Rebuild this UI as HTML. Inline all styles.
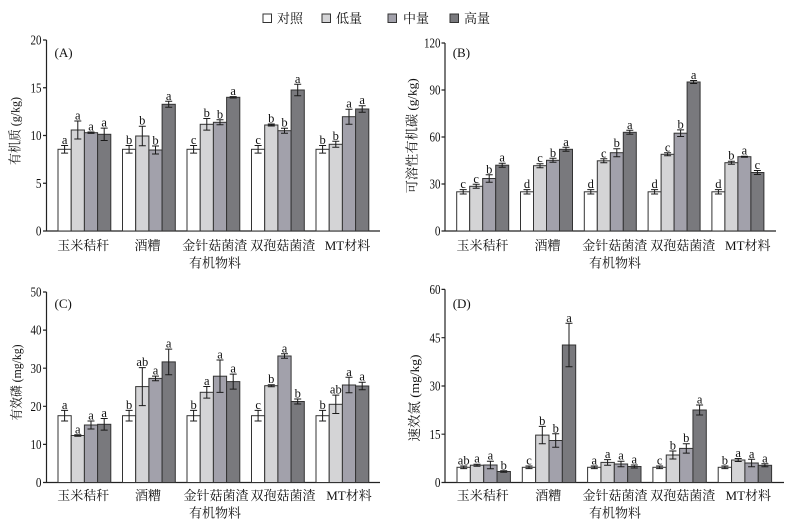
<!DOCTYPE html>
<html><head><meta charset="utf-8"><style>
html,body{margin:0;padding:0;background:#fff;}
svg{display:block;}
.t{font-family:"Liberation Serif","Noto Serif CJK SC",serif;fill:#111;}
.cj{font-family:"Liberation Serif","Noto Serif CJK SC",serif;fill:#111;font-size:13px;}
.lt{font-size:12.5px;text-anchor:middle;}
.tk{font-size:14px;text-anchor:end;}
.w{fill:#ffffff;stroke:#333;stroke-width:1;}
.l{fill:#d4d4d6;stroke:#333;stroke-width:1;}
.m{fill:#a2a1ab;stroke:#333;stroke-width:1;}
.d{fill:#79797d;stroke:#333;stroke-width:1;}
.ax{stroke:#222;stroke-width:1.2;fill:none;}
.eb{stroke:#1a1a1a;stroke-width:1;fill:none;}
</style></head><body>
<svg width="797" height="526" viewBox="0 0 797 526" xmlns="http://www.w3.org/2000/svg">
<rect width="797" height="526" fill="#fff"/>

<!-- Legend -->
<rect class="w" x="263" y="14" width="8.5" height="8.5"/>
<text class="cj" x="277" y="23">对照</text>
<rect class="l" x="322" y="14" width="8.5" height="8.5"/>
<text class="cj" x="336" y="23">低量</text>
<rect class="m" x="388" y="14" width="8.5" height="8.5"/>
<text class="cj" x="403" y="23">中量</text>
<rect class="d" x="450" y="14" width="8.5" height="8.5"/>
<text class="cj" x="464" y="23">高量</text>

<!-- ================= Panel A ================= -->
<path class="ax" d="M46.5 40 V231 H380 M43 40 H46.5 M43 87.75 H46.5 M43 135.5 H46.5 M43 183.25 H46.5 M43 231 H46.5"/>
<text class="t tk" x="41.5" y="44.6" textLength="11" lengthAdjust="spacingAndGlyphs">20</text>
<text class="t tk" x="41.5" y="92.3" textLength="11" lengthAdjust="spacingAndGlyphs">15</text>
<text class="t tk" x="41.5" y="140.1" textLength="11" lengthAdjust="spacingAndGlyphs">10</text>
<text class="t tk" x="41.5" y="187.8" textLength="5.6" lengthAdjust="spacingAndGlyphs">5</text>
<text class="t tk" x="41.5" y="235.6" textLength="5.6" lengthAdjust="spacingAndGlyphs">0</text>
<text class="t" x="54.5" y="57" font-size="13">(A)</text>
<text class="cj" transform="translate(19.5,131) rotate(-90)" text-anchor="middle" textLength="68" lengthAdjust="spacingAndGlyphs">有机质 (g/kg)</text>

<rect class="w" x="58" y="149.3" width="13.2" height="81.7"/>
<rect class="l" x="71.2" y="130" width="13.2" height="101"/>
<rect class="m" x="84.4" y="132.7" width="13.2" height="98.3"/>
<rect class="d" x="97.6" y="134.3" width="13.2" height="96.7"/>
<rect class="w" x="122.5" y="149.3" width="13.2" height="81.7"/>
<rect class="l" x="135.7" y="136" width="13.2" height="95"/>
<rect class="m" x="148.9" y="150" width="13.2" height="81"/>
<rect class="d" x="162.1" y="104.3" width="13.2" height="126.7"/>
<rect class="w" x="187" y="149.3" width="13.2" height="81.7"/>
<rect class="l" x="200.2" y="124.3" width="13.2" height="106.7"/>
<rect class="m" x="213.4" y="122.3" width="13.2" height="108.7"/>
<rect class="d" x="226.6" y="97.3" width="13.2" height="133.7"/>
<rect class="w" x="251.5" y="149.3" width="13.2" height="81.7"/>
<rect class="l" x="264.7" y="125" width="13.2" height="106"/>
<rect class="m" x="277.9" y="130.7" width="13.2" height="100.3"/>
<rect class="d" x="291.1" y="90" width="13.2" height="141"/>
<rect class="w" x="316" y="149.3" width="13.2" height="81.7"/>
<rect class="l" x="329.2" y="144.3" width="13.2" height="86.7"/>
<rect class="m" x="342.4" y="116.7" width="13.2" height="114.3"/>
<rect class="d" x="355.6" y="109" width="13.2" height="122"/>
<path class="eb" d="
M61.1 145.5H68.1M64.6 145.5V153.1M61.1 153.1H68.1
M74.3 121H81.3M77.8 121V139M74.3 139H81.3
M87.5 132H94.5M91 132V133.4M87.5 133.4H94.5
M100.7 128.1H107.7M104.2 128.1V140.5M100.7 140.5H107.7
M125.6 145.5H132.6M129.1 145.5V153.1M125.6 153.1H132.6
M138.8 126.2H145.8M142.3 126.2V145.8M138.8 145.8H145.8
M152 146H159M155.5 146V154M152 154H159
M165.2 101.3H172.2M168.7 101.3V107.3M165.2 107.3H172.2
M190.1 145.5H197.1M193.6 145.5V153.1M190.1 153.1H197.1
M203.3 118.5H210.3M206.8 118.5V130.1M203.3 130.1H210.3
M216.5 119.8H223.5M220 119.8V124.8M216.5 124.8H223.5
M229.7 96.6H236.7M233.2 96.6V98M229.7 98H236.7
M254.6 145.5H261.6M258.1 145.5V153.1M254.6 153.1H261.6
M267.8 124H274.8M271.3 124V126M267.8 126H274.8
M281 128.2H288M284.5 128.2V133.2M281 133.2H288
M294.2 84.3H301.2M297.7 84.3V95.7M294.2 95.7H301.2
M319.1 145.5H326.1M322.6 145.5V153.1M319.1 153.1H326.1
M332.3 141.3H339.3M335.8 141.3V147.3M332.3 147.3H339.3
M345.5 109.2H352.5M349 109.2V124.2M345.5 124.2H352.5
M358.7 105.7H365.7M362.2 105.7V112.3M358.7 112.3H365.7"/>
<g class="t lt">
<text x="64.6" y="144">a</text><text x="77.8" y="119.5">a</text><text x="91" y="130.5">a</text><text x="104.2" y="126.6">a</text>
<text x="129.1" y="144">b</text><text x="142.3" y="124.7">b</text><text x="155.5" y="144.5">b</text><text x="168.7" y="99.8">a</text>
<text x="193.6" y="144">c</text><text x="206.8" y="117">b</text><text x="220" y="118.3">b</text><text x="233.2" y="95">a</text>
<text x="258.1" y="144">c</text><text x="271.3" y="122.5">b</text><text x="284.5" y="126.7">b</text><text x="297.7" y="82.8">a</text>
<text x="322.6" y="144">b</text><text x="335.8" y="139.8">b</text><text x="349" y="107.7">a</text><text x="362.2" y="104.2">a</text>
</g>
<g class="cj" text-anchor="middle">
<text x="83.3" y="250">玉米秸秆</text><text x="147.5" y="250">酒糟</text><text x="214.7" y="250">金针菇菌渣</text><text x="282.8" y="250">双孢菇菌渣</text><text x="347.5" y="250">MT材料</text>
<text x="215" y="267.5">有机物料</text>
</g>

<!-- ================= Panel B ================= -->
<path class="ax" d="M445 43 V231 H776 M441.5 43 H445 M441.5 90 H445 M441.5 137 H445 M441.5 184 H445 M441.5 231 H445"/>
<text class="t tk" x="440.5" y="47.6" textLength="16.5" lengthAdjust="spacingAndGlyphs">120</text>
<text class="t tk" x="440.5" y="94.6" textLength="11" lengthAdjust="spacingAndGlyphs">90</text>
<text class="t tk" x="440.5" y="141.6" textLength="11" lengthAdjust="spacingAndGlyphs">60</text>
<text class="t tk" x="440.5" y="188.6" textLength="11" lengthAdjust="spacingAndGlyphs">30</text>
<text class="t tk" x="440.5" y="235.6" textLength="5.6" lengthAdjust="spacingAndGlyphs">0</text>
<text class="t" x="452.7" y="57" font-size="13">(B)</text>
<text class="cj" transform="translate(416.5,135.8) rotate(-90)" text-anchor="middle" textLength="115" lengthAdjust="spacingAndGlyphs">可溶性有机碳 (g/kg)</text>

<rect class="w" x="456.7" y="191.8" width="13" height="39.2"/>
<rect class="l" x="469.7" y="186.3" width="13" height="44.7"/>
<rect class="m" x="482.7" y="178.5" width="13" height="52.5"/>
<rect class="d" x="495.7" y="165.2" width="13" height="65.8"/>
<rect class="w" x="520.5" y="191.8" width="13" height="39.2"/>
<rect class="l" x="533.5" y="165.7" width="13" height="65.3"/>
<rect class="m" x="546.5" y="160.3" width="13" height="70.7"/>
<rect class="d" x="559.5" y="149.3" width="13" height="81.7"/>
<rect class="w" x="584.3" y="191.8" width="13" height="39.2"/>
<rect class="l" x="597.3" y="160.8" width="13" height="70.2"/>
<rect class="m" x="610.3" y="152.7" width="13" height="78.3"/>
<rect class="d" x="623.3" y="132.3" width="13" height="98.7"/>
<rect class="w" x="648.1" y="191.8" width="13" height="39.2"/>
<rect class="l" x="661.1" y="154.3" width="13" height="76.7"/>
<rect class="m" x="674.1" y="133.2" width="13" height="97.8"/>
<rect class="d" x="687.1" y="82" width="13" height="149"/>
<rect class="w" x="711.9" y="191.8" width="13" height="39.2"/>
<rect class="l" x="724.9" y="162.7" width="13" height="68.3"/>
<rect class="m" x="737.9" y="156.7" width="13" height="74.3"/>
<rect class="d" x="750.9" y="172.5" width="13" height="58.5"/>
<path class="eb" d="
M459.7 189.6H466.7M463.2 189.6V194M459.7 194H466.7
M472.7 184.3H479.7M476.2 184.3V188.3M472.7 188.3H479.7
M485.7 174.8H492.7M489.2 174.8V182.2M485.7 182.2H492.7
M498.7 163.2H505.7M502.2 163.2V167.2M498.7 167.2H505.7
M523.5 189.6H530.5M527 189.6V194M523.5 194H530.5
M536.5 163.7H543.5M540 163.7V167.7M536.5 167.7H543.5
M549.5 158.3H556.5M553 158.3V162.3M549.5 162.3H556.5
M562.5 147.3H569.5M566 147.3V151.3M562.5 151.3H569.5
M587.3 189.6H594.3M590.8 189.6V194M587.3 194H594.3
M600.3 158.8H607.3M603.8 158.8V162.8M600.3 162.8H607.3
M613.3 148.7H620.3M616.8 148.7V156.7M613.3 156.7H620.3
M626.3 130.3H633.3M629.8 130.3V134.3M626.3 134.3H633.3
M651.1 189.6H658.1M654.6 189.6V194M651.1 194H658.1
M664.1 152.8H671.1M667.6 152.8V155.8M664.1 155.8H671.1
M677.1 129.9H684.1M680.6 129.9V136.5M677.1 136.5H684.1
M690.1 80.5H697.1M693.6 80.5V83.5M690.1 83.5H697.1
M714.9 189.6H721.9M718.4 189.6V194M714.9 194H721.9
M727.9 161.2H734.9M731.4 161.2V164.2M727.9 164.2H734.9
M740.9 156.2H747.9M744.4 156.2V157.2M740.9 157.2H747.9
M753.9 170.5H760.9M757.4 170.5V174.5M753.9 174.5H760.9"/>
<g class="t lt">
<text x="463.2" y="188.1">c</text><text x="476.2" y="182.8">c</text><text x="489.2" y="173.3">b</text><text x="502.2" y="161.7">a</text>
<text x="527" y="188.1">d</text><text x="540" y="162.2">c</text><text x="553" y="156.8">b</text><text x="566" y="145.8">a</text>
<text x="590.8" y="188.1">d</text><text x="603.8" y="157.3">c</text><text x="616.8" y="147.2">b</text><text x="629.8" y="128.8">a</text>
<text x="654.6" y="188.1">d</text><text x="667.6" y="151.3">c</text><text x="680.6" y="128.4">b</text><text x="693.6" y="79">a</text>
<text x="718.4" y="188.1">d</text><text x="731.4" y="159.7">b</text><text x="744.4" y="154.7">a</text><text x="757.4" y="169">c</text>
</g>
<g class="cj" text-anchor="middle">
<text x="482.5" y="250">玉米秸秆</text><text x="547.5" y="250">酒糟</text><text x="614.7" y="250">金针菇菌渣</text><text x="682.8" y="250">双孢菇菌渣</text><text x="747.8" y="250">MT材料</text>
<text x="615" y="267.5">有机物料</text>
</g>

<!-- ================= Panel C ================= -->
<path class="ax" d="M46.5 292 V482.5 H380 M43 292 H46.5 M43 330.1 H46.5 M43 368.2 H46.5 M43 406.3 H46.5 M43 444.4 H46.5 M43 482.5 H46.5"/>
<text class="t tk" x="41.5" y="296.6" textLength="11" lengthAdjust="spacingAndGlyphs">50</text>
<text class="t tk" x="41.5" y="334.7" textLength="11" lengthAdjust="spacingAndGlyphs">40</text>
<text class="t tk" x="41.5" y="372.8" textLength="11" lengthAdjust="spacingAndGlyphs">30</text>
<text class="t tk" x="41.5" y="410.9" textLength="11" lengthAdjust="spacingAndGlyphs">20</text>
<text class="t tk" x="41.5" y="449" textLength="11" lengthAdjust="spacingAndGlyphs">10</text>
<text class="t tk" x="41.5" y="487.1" textLength="5.6" lengthAdjust="spacingAndGlyphs">0</text>
<text class="t" x="54.5" y="308" font-size="13">(C)</text>
<text class="cj" transform="translate(21,382.5) rotate(-90)" text-anchor="middle" textLength="76" lengthAdjust="spacingAndGlyphs">有效磷 (mg/kg)</text>

<rect class="w" x="58" y="415.7" width="13.2" height="66.8"/>
<rect class="l" x="71.2" y="435.5" width="13.2" height="47"/>
<rect class="m" x="84.4" y="425" width="13.2" height="57.5"/>
<rect class="d" x="97.6" y="424.3" width="13.2" height="58.2"/>
<rect class="w" x="122.5" y="415.7" width="13.2" height="66.8"/>
<rect class="l" x="135.7" y="386.6" width="13.2" height="95.9"/>
<rect class="m" x="148.9" y="378.4" width="13.2" height="104.1"/>
<rect class="d" x="162.1" y="361.9" width="13.2" height="120.6"/>
<rect class="w" x="187" y="415.7" width="13.2" height="66.8"/>
<rect class="l" x="200.2" y="392.3" width="13.2" height="90.2"/>
<rect class="m" x="213.4" y="376.2" width="13.2" height="106.3"/>
<rect class="d" x="226.6" y="381.6" width="13.2" height="100.9"/>
<rect class="w" x="251.5" y="415.7" width="13.2" height="66.8"/>
<rect class="l" x="264.7" y="385.7" width="13.2" height="96.8"/>
<rect class="m" x="277.9" y="356" width="13.2" height="126.5"/>
<rect class="d" x="291.1" y="401.5" width="13.2" height="81"/>
<rect class="w" x="316" y="415.7" width="13.2" height="66.8"/>
<rect class="l" x="329.2" y="404.3" width="13.2" height="78.2"/>
<rect class="m" x="342.4" y="385" width="13.2" height="97.5"/>
<rect class="d" x="355.6" y="386" width="13.2" height="96.5"/>
<path class="eb" d="
M61.1 410.4H68.1M64.6 410.4V421M61.1 421H68.1
M74.3 434.8H81.3M77.8 434.8V436.2M74.3 436.2H81.3
M87.5 421H94.5M91 421V429M87.5 429H94.5
M100.7 418.5H107.7M104.2 418.5V430.1M100.7 430.1H107.7
M125.6 410.4H132.6M129.1 410.4V421M125.6 421H132.6
M138.8 367.6H145.8M142.3 367.6V405.6M138.8 405.6H145.8
M152 376.1H159M155.5 376.1V380.7M152 380.7H159
M165.2 349.1H172.2M168.7 349.1V374.7M165.2 374.7H172.2
M190.1 410.4H197.1M193.6 410.4V421M190.1 421H197.1
M203.3 386.5H210.3M206.8 386.5V398.1M203.3 398.1H210.3
M216.5 360H223.5M220 360V392.4M216.5 392.4H223.5
M229.7 374.1H236.7M233.2 374.1V389.1M229.7 389.1H236.7
M254.6 410.4H261.6M258.1 410.4V421M254.6 421H261.6
M267.8 384.7H274.8M271.3 384.7V386.7M267.8 386.7H274.8
M281 353.8H288M284.5 353.8V358.2M281 358.2H288
M294.2 399H301.2M297.7 399V404M294.2 404H301.2
M319.1 410.4H326.1M322.6 410.4V421M319.1 421H326.1
M332.3 395.1H339.3M335.8 395.1V413.5M332.3 413.5H339.3
M345.5 377.3H352.5M349 377.3V392.7M345.5 392.7H352.5
M358.7 382.2H365.7M362.2 382.2V389.8M358.7 389.8H365.7"/>
<g class="t lt">
<text x="64.6" y="408.9">a</text><text x="77.8" y="433.3">a</text><text x="91" y="419.5">a</text><text x="104.2" y="417">a</text>
<text x="129.1" y="408.9">b</text><text x="142.3" y="366.1">ab</text><text x="155.5" y="374.6">a</text><text x="168.7" y="347.6">a</text>
<text x="193.6" y="408.9">b</text><text x="206.8" y="385">a</text><text x="220" y="358.5">a</text><text x="233.2" y="372.6">a</text>
<text x="258.1" y="408.9">c</text><text x="271.3" y="383.2">b</text><text x="284.5" y="352.3">a</text><text x="297.7" y="397.5">b</text>
<text x="322.6" y="408.9">b</text><text x="335.8" y="393.6">ab</text><text x="349" y="375.8">a</text><text x="362.2" y="380.7">a</text>
</g>
<g class="cj" text-anchor="middle">
<text x="83.3" y="500">玉米秸秆</text><text x="148" y="500">酒糟</text><text x="216" y="500">金针菇菌渣</text><text x="283" y="500">双孢菇菌渣</text><text x="349" y="500">MT材料</text>
<text x="215" y="517.5">有机物料</text>
</g>

<!-- ================= Panel D ================= -->
<path class="ax" d="M445 289.4 V482.5 H784 M441.5 289.4 H445 M441.5 337.7 H445 M441.5 386 H445 M441.5 434.2 H445 M441.5 482.5 H445"/>
<text class="t tk" x="440.5" y="294" textLength="11" lengthAdjust="spacingAndGlyphs">60</text>
<text class="t tk" x="440.5" y="342.3" textLength="11" lengthAdjust="spacingAndGlyphs">45</text>
<text class="t tk" x="440.5" y="390.6" textLength="11" lengthAdjust="spacingAndGlyphs">30</text>
<text class="t tk" x="440.5" y="438.8" textLength="11" lengthAdjust="spacingAndGlyphs">15</text>
<text class="t tk" x="440.5" y="487.1" textLength="5.6" lengthAdjust="spacingAndGlyphs">0</text>
<text class="t" x="452.7" y="308" font-size="13">(D)</text>
<text class="cj" transform="translate(419,398) rotate(-90)" text-anchor="middle" textLength="87" lengthAdjust="spacingAndGlyphs">速效氮 (mg/kg)</text>

<rect class="w" x="457" y="467.3" width="13.35" height="15.2"/>
<rect class="l" x="470.35" y="465.2" width="13.35" height="17.3"/>
<rect class="m" x="483.7" y="465" width="13.35" height="17.5"/>
<rect class="d" x="497.05" y="471.5" width="13.35" height="11"/>
<rect class="w" x="522.3" y="467.3" width="13.35" height="15.2"/>
<rect class="l" x="535.65" y="435.1" width="13.35" height="47.4"/>
<rect class="m" x="549" y="440.5" width="13.35" height="42"/>
<rect class="d" x="562.35" y="345" width="13.35" height="137.5"/>
<rect class="w" x="587.6" y="467.3" width="13.35" height="15.2"/>
<rect class="l" x="600.95" y="462.4" width="13.35" height="20.1"/>
<rect class="m" x="614.3" y="464" width="13.35" height="18.5"/>
<rect class="d" x="627.65" y="466.5" width="13.35" height="16"/>
<rect class="w" x="652.9" y="467.3" width="13.35" height="15.2"/>
<rect class="l" x="666.25" y="455" width="13.35" height="27.5"/>
<rect class="m" x="679.6" y="448.4" width="13.35" height="34.1"/>
<rect class="d" x="692.95" y="410" width="13.35" height="72.5"/>
<rect class="w" x="718.2" y="467.3" width="13.35" height="15.2"/>
<rect class="l" x="731.55" y="460" width="13.35" height="22.5"/>
<rect class="m" x="744.9" y="463" width="13.35" height="19.5"/>
<rect class="d" x="758.25" y="465.3" width="13.35" height="17.2"/>
<path class="eb" d="
M460.2 466H467.2M463.7 466V468.6M460.2 468.6H467.2
M473.5 464.2H480.5M477 464.2V466.2M473.5 466.2H480.5
M486.9 461.2H493.9M490.4 461.2V468.8M486.9 468.8H493.9
M500.2 470.8H507.2M503.7 470.8V472.2M500.2 472.2H507.2
M525.5 466H532.5M529 466V468.6M525.5 468.6H532.5
M538.8 426.4H545.8M542.3 426.4V443.8M538.8 443.8H545.8
M552.2 433.8H559.2M555.7 433.8V447.2M552.2 447.2H559.2
M565.5 323.3H572.5M569 323.3V366.7M565.5 366.7H572.5
M590.8 466H597.8M594.3 466V468.6M590.8 468.6H597.8
M604.1 459.6H611.1M607.6 459.6V465.2M604.1 465.2H611.1
M617.5 461.2H624.5M621 461.2V466.8M617.5 466.8H624.5
M630.8 465H637.8M634.3 465V468M630.8 468H637.8
M656.1 466H663.1M659.6 466V468.6M656.1 468.6H663.1
M669.4 451H676.4M672.9 451V459M669.4 459H676.4
M682.8 443.7H689.8M686.3 443.7V453.1M682.8 453.1H689.8
M696.1 405H703.1M699.6 405V415M696.1 415H703.1
M721.4 466H728.4M724.9 466V468.6M721.4 468.6H728.4
M734.7 458.5H741.7M738.2 458.5V461.5M734.7 461.5H741.7
M748.1 459.3H755.1M751.6 459.3V466.7M748.1 466.7H755.1
M761.4 463.8H768.4M764.9 463.8V466.8M761.4 466.8H768.4"/>
<g class="t lt">
<text x="463.7" y="464.5">ab</text><text x="477" y="462.7">a</text><text x="490.4" y="459.7">a</text><text x="503.7" y="469.3">b</text>
<text x="529" y="464.5">c</text><text x="542.3" y="424.9">b</text><text x="555.7" y="432.3">b</text><text x="569" y="321.8">a</text>
<text x="594.3" y="464.5">a</text><text x="607.6" y="458.1">a</text><text x="621" y="459.7">a</text><text x="634.3" y="463.5">a</text>
<text x="659.6" y="464.5">c</text><text x="672.9" y="449.5">b</text><text x="686.3" y="442.2">b</text><text x="699.6" y="403.5">a</text>
<text x="724.9" y="464.5">b</text><text x="738.2" y="457">a</text><text x="751.6" y="457.8">a</text><text x="764.9" y="462.3">a</text>
</g>
<g class="cj" text-anchor="middle">
<text x="482.8" y="500">玉米秸秆</text><text x="548.3" y="500">酒糟</text><text x="615" y="500">金针菇菌渣</text><text x="682.8" y="500">双孢菇菌渣</text><text x="748.3" y="500">MT材料</text>
<text x="615" y="517.5">有机物料</text>
</g>
</svg>
</body></html>
